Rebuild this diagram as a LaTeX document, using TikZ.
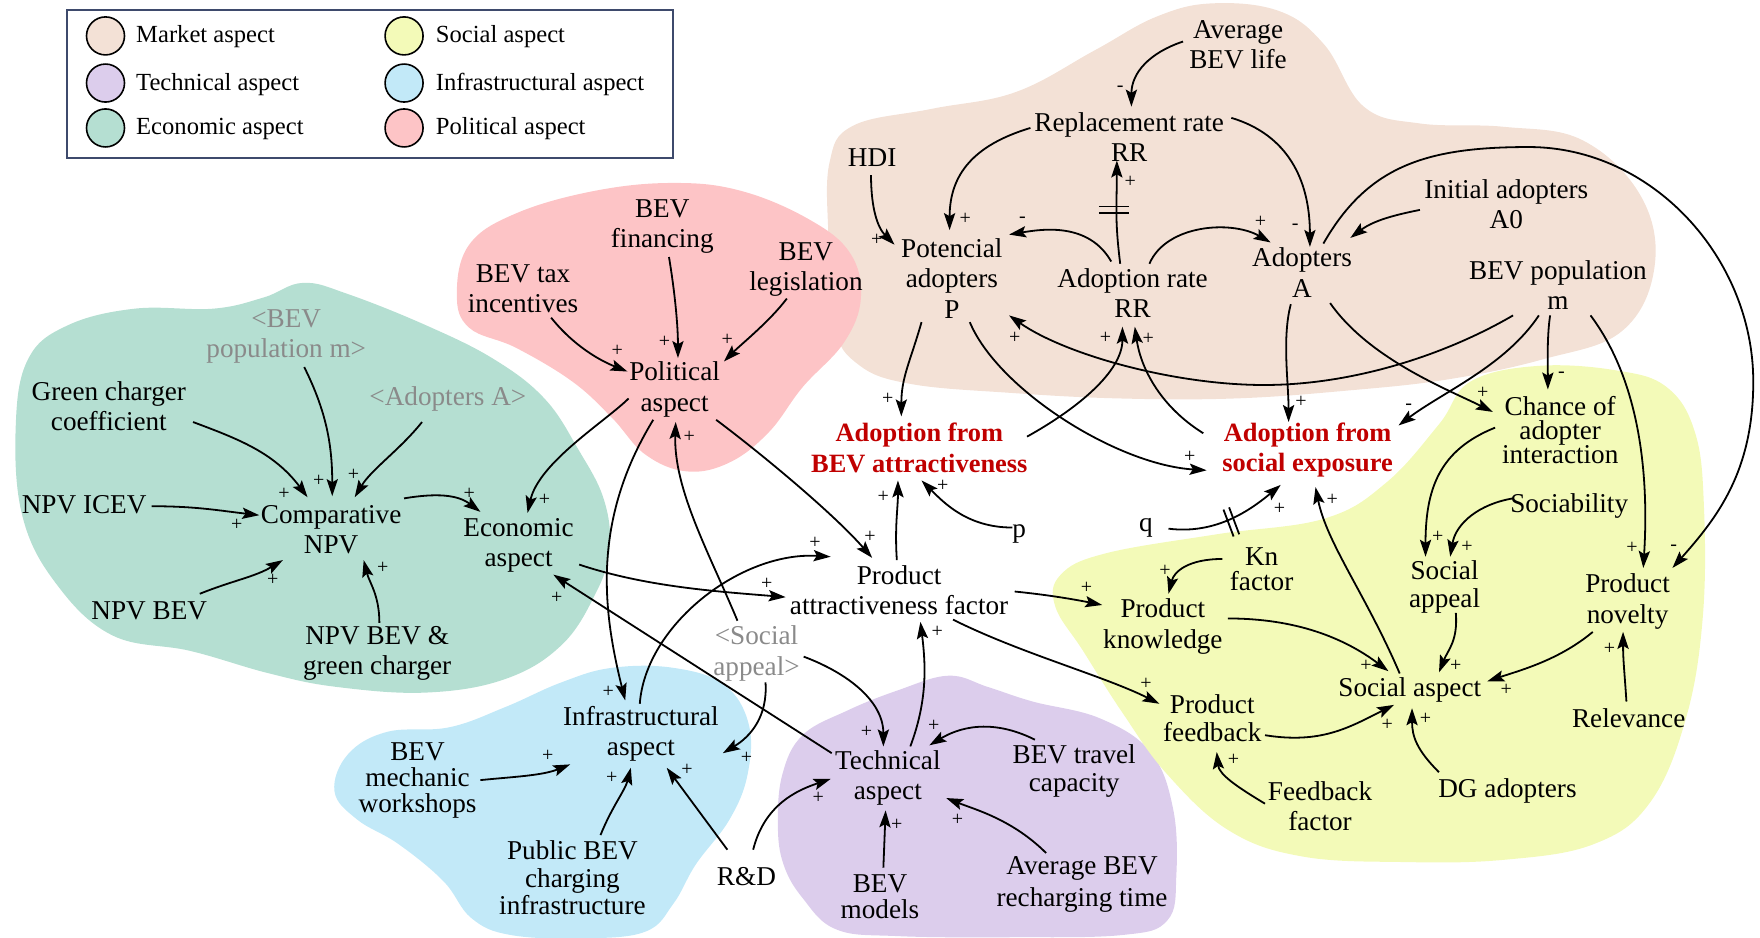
\documentclass[tikz,border=0pt]{standalone}
\usepackage{fontspec}
\setmainfont{Liberation Serif}
\usetikzlibrary{arrows.meta,calc}

\definecolor{cMkt}{HTML}{F3E1D6}
\definecolor{cPol}{HTML}{FDC4C6}
\definecolor{cEco}{HTML}{B5DFD2}
\definecolor{cInf}{HTML}{C2E9F8}
\definecolor{cTec}{HTML}{DCCDEC}
\definecolor{cSoc}{HTML}{F3FAB8}
\definecolor{cGrey}{HTML}{8A8A8A}
\definecolor{cRed}{HTML}{C00000}
\definecolor{cFrame}{HTML}{3E4A6C}

\newcommand\txtfont{\fontsize{13.6}{15.2}\selectfont}
\newcommand\txtfontat[1]{\fontsize{13.6}{#1}\selectfont}
\newcommand\keyfont{\fontsize{12.3}{14}\selectfont}
\newcommand\redfont{\fontsize{13.2}{15.4}\selectfont\bfseries}
\newcommand\signfont{\fontsize{10}{10}\selectfont}

\tikzset{
  var/.style={align=center, inner sep=0pt, font=\txtfont},
  shadow var/.style={var, text=cGrey},
  key var/.style={var, text=cRed, font=\redfont},
  key text/.style={anchor=west, inner sep=0pt, font=\keyfont},
  link/.style={line width=0.9pt, -{Stealth[length=8.5pt,width=5.6pt,inset=1.6pt]}},
  sign/.style={inner sep=0pt, font=\signfont},
  blob/.style={smooth cycle, tension=0.65},
  swatch/.style={draw, line width=0.8pt, circle, minimum size=19pt, inner sep=0pt},
  delay/.style={line width=0.9pt},
}

\begin{document}
\begin{tikzpicture}[x=0.5612pt, y=-0.5612pt]
\useasboundingbox (0,0) rectangle (1568,835);

% ---------- aspect regions ----------
\fill[cMkt] plot[blob] coordinates {(739,145) (760,112) (830,97) (905,82) (975,45) (1030,15) (1080,3) (1140,10) (1180,40) (1215,95) (1265,110) (1340,113) (1410,125) (1462,175) (1474,238) (1445,295) (1375,320) (1290,338) (1200,348) (1100,355) (998,355) (900,350) (811,342) (765,325) (743,290) (738,210)};
\fill[cPol] plot[blob] coordinates {(407,262) (418,218) (460,190) (530,170) (600,163) (660,170) (720,195) (757,225) (767,265) (752,305) (715,345) (685,385) (650,412) (612,420) (575,405) (545,372) (510,340) (460,310) (418,292)};
\fill[cEco] plot[blob] coordinates {(14,380) (25,320) (60,290) (120,275) (190,275) (235,265) (270,252) (310,262) (380,290) (440,320) (485,355) (515,400) (538,445) (543,490) (530,530) (500,575) (450,605) (380,617) (300,612) (240,600) (170,580) (100,566) (50,520) (20,460)};
\fill[cInf] plot[blob] coordinates {(298,705) (310,672) (345,652) (400,648) (450,630) (500,608) (545,595) (600,595) (645,610) (667,645) (666,690) (650,730) (620,770) (600,805) (575,830) (520,836) (455,833) (420,818) (395,785) (355,752) (318,730)};
\fill[cTec] plot[blob] coordinates {(693,735) (697,690) (715,655) (755,633) (800,615) (845,602) (880,612) (920,625) (980,640) (1025,670) (1045,720) (1048,780) (1040,820) (1000,833) (900,835) (800,834) (745,828) (715,800) (698,770)};
\fill[cSoc] plot[blob] coordinates {(1282,378) (1310,340) (1370,326) (1440,330) (1485,345) (1510,385) (1518,450) (1517,550) (1502,640) (1470,715) (1420,752) (1340,766) (1250,768) (1160,763) (1095,740) (1040,690) (1000,635) (965,580) (940,540) (945,512) (985,493) (1084,476) (1180,462) (1235,430)};

% ---------- legend ----------
\draw[cFrame, line width=1pt] (60,9) rectangle (600,141);
\node[swatch, fill=cMkt] (kMkt) at (94,32) {};
\node[swatch, fill=cTec] (kTec) at (94,74) {};
\node[swatch, fill=cEco] (kEco) at (94,114) {};
\node[swatch, fill=cSoc] (kSoc) at (360,32) {};
\node[swatch, fill=cInf] (kInf) at (360,74) {};
\node[swatch, fill=cPol] (kPol) at (360,114) {};
\node[key text] (tMkt) at (121,33) {Market aspect};
\node[key text] (tTec) at (121,75) {Technical aspect};
\node[key text] (tEco) at (121,115) {Economic aspect};
\node[key text] (tSoc) at (388,33) {Social aspect};
\node[key text] (tInf) at (388,75) {Infrastructural aspect};
\node[key text] (tPol) at (388,115) {Political aspect};

% ---------- economic aspect ----------
\node[shadow var] (gpop) at (255,300) {<BEV\\population m>};
\node[var] (gcc) at (97,362) {Green charger\\coefficient};
\node[shadow var] (gadA) at (399,355) {<Adopters A>};
\node[var] (icev) at (75,450) {NPV ICEV};
\node[var] (cmp) at (295,472) {Comparative\\NPV};
\node[var] (eco) at (462,486) {Economic\\aspect};
\node[var] (nbev) at (133,544) {NPV BEV};
\node[var] (ngc) at (336,582) {NPV BEV \&\\green charger};

% ---------- political aspect ----------
\node[var] (fin) at (590,202) {BEV\\financing};
\node[var] (tax) at (466,257) {BEV tax\\incentives};
\node[var] (leg) at (718,240) {BEV\\legislation};
\node[var] (pol) at (601,347) {Political\\aspect};

% ---------- market aspect ----------
\node[var] (avl) at (1103,40) {Average\\BEV life};
\node[var] (rep) at (1006,122) {Replacement rate\\RR};
\node[var] (hdi) at (777,140) {HDI};
\node[var] (pot) at (848,248) {Potencial\\adopters\\P};
\node[var] (adr) at (1009,261) {Adoption rate\\RR};
\node[var] (ado) at (1160,243) {Adopters\\A};
\node[var] (ini) at (1342,182) {Initial adopters\\A0};
\node[var] (pop) at (1388,254) {BEV population\\m};

% ---------- adoption flows ----------
\node[key var] (aba) at (819,399) {Adoption from\\BEV attractiveness};
\node[key var] (ase) at (1165,401) {Adoption from\\social exposure};
\node[var] (p) at (908,476) {p};
\node[var] (q) at (1021,470) {q};
\node[var] (paf) at (801,526) {Product\\attractiveness factor};
\node[shadow var] (gsa) at (674,582) {<Social\\appeal>};

% ---------- infrastructural aspect ----------
\node[var] (inf) at (571,654) {Infrastructural\\aspect};
\node[var, font=\txtfontat{13}] (mech) at (372,695) {BEV\\mechanic\\workshops};
\node[var, font=\txtfontat{13.7}] (pub) at (510,782) {Public BEV\\charging\\infrastructure};
\node[var] (rd) at (665,781) {R\&D};

% ---------- technical aspect ----------
\node[var] (tec) at (791,693) {Technical\\aspect};
\node[var, font=\txtfontat{14}] (trav) at (957,687) {BEV travel\\capacity};
\node[var, font=\txtfontat{13}] (mod) at (784,799) {BEV\\models};
\node[var, font=\txtfontat{16}] (rech) at (964,788) {Average BEV\\recharging time};

% ---------- social aspect ----------
\node[var, font=\txtfontat{12}] (cha) at (1390,383) {Chance of\\adopter\\interaction};
\node[var] (soc) at (1398,451) {Sociability};
\node[var, font=\txtfontat{12.5}] (kn) at (1124,507) {Kn\\factor};
\node[var] (pk) at (1036,558) {Product\\knowledge};
\node[var, font=\txtfontat{14}] (sap) at (1287,523) {Social\\appeal};
\node[var] (nov) at (1450,536) {Product\\novelty};
\node[var] (sas) at (1256,615) {Social aspect};
\node[var, font=\txtfontat{14}] (pfb) at (1080,640) {Product\\feedback};
\node[var] (rel) at (1451,640) {Relevance};
\node[var] (ffa) at (1176,718) {Feedback\\factor};
\node[var] (dg) at (1343,705) {DG adopters};

% ---------- causal links ----------
\draw[link] ($(gpop)+(16,27)$) .. controls +(20,40) and +(0,-45) .. ($(cmp)+(1,-30)$);
\draw[link] ($(gcc)+(75,14)$) .. controls +(40,15) and +(-30,-40) .. ($(cmp)+(-21,-29)$);
\draw[link] ($(gadA)+(-23,21)$) .. controls +(-20,25) and +(15,-25) .. ($(cmp)+(21,-29)$);
\draw[link] ($(icev)+(60,1)$) .. controls +(40,0) and +(-35,-4) .. ($(cmp)+(-64,-13)$);
\draw[link] ($(nbev)+(45,-15)$) .. controls +(30,-12) and +(-25,15) .. ($(cmp)+(-43,27)$);
\draw[link] ($(ngc)+(2,-27)$) .. controls +(0,-25) and +(5,20) .. ($(cmp)+(29,27)$);
\draw[link] ($(cmp)+(65,-28)$) .. controls +(30,-5) and +(-20,-15) .. ($(eco)+(-34,-30)$);
\draw[link] ($(pol)+(-41,8)$) .. controls +(-20,20) and +(10,-45) .. ($(eco)+(8,-29)$);
\draw[link] ($(eco)+(54,17)$) .. controls +(60,20) and +(-60,-5) .. ($(paf)+(-101,6)$);
\draw[link] ($(tec)+(-50,-22)$) -- ($(eco)+(31,26)$);

\draw[link] ($(fin)+(6,27)$) .. controls +(5,30) and +(0,-30) .. ($(pol)+(3,-28)$);
\draw[link] ($(tax)+(25,26)$) .. controls +(20,25) and +(-25,-10) .. ($(pol)+(-42,-16)$);
\draw[link] ($(leg)+(-17,26)$) .. controls +(-15,20) and +(15,-15) .. ($(pol)+(44,-25)$);
\draw[link] ($(pol)+(-19,27)$) .. controls +(-55,90) and +(-20,-80) .. ($(inf)+(-14,-30)$);
\draw[link] ($(gsa)+(-17,-29)$) .. controls +(-25,-60) and +(-2,60) .. ($(pol)+(1,29)$);
\draw[link] ($(pol)+(37,27)$) .. controls +(40,30) and +(-35,-40) .. ($(paf)+(-24,-29)$);
\draw[link] ($(inf)+(-1,-27)$) .. controls +(5,-70) and +(-80,-5) .. ($(paf)+(-61,-30)$);

\draw[link] ($(avl)+(-49,-3)$) .. controls +(-30,10) and +(0,-30) .. ($(rep)+(2,-27)$);
\draw[link] ($(rep)+(-88,-8)$) .. controls +(-50,15) and +(0,-50) .. ($(pot)+(-2,-43)$);
\draw[link] ($(rep)+(91,-17)$) .. controls +(50,15) and +(0,-60) .. ($(ado)+(7,-23)$);
\draw[link] ($(hdi)+(-1,16)$) .. controls +(0,30) and +(-15,-15) .. ($(pot)+(-51,-30)$);
\draw[link] ($(adr)+(-19,-28)$) .. controls +(-20,-35) and +(30,-5) .. ($(pot)+(51,-39)$);
\draw[link] ($(adr)+(-11,-26)$) .. controls +(-5,-40) and +(0,40) .. ($(rep)+(-11,21)$);
\draw[link] ($(adr)+(15,-26)$) .. controls +(15,-35) and +(-35,-20) .. ($(ado)+(-28,-27)$);
\draw[link] ($(ini)+(-77,5)$) .. controls +(-25,5) and +(20,-15) .. ($(ado)+(43,-31)$);
\draw[link] ($(ado)+(19,-26)$) .. controls +(40,-70) and +(-90,0) .. (1362,131)
  .. controls +(110,0) and +(0,-110) .. (1562,340)
  .. controls +(0,80) and +(40,-45) .. ($(nov)+(40,-30)$);
\draw[link] ($(pop)+(29,27)$) .. controls +(45,60) and +(5,-80) .. ($(nov)+(14,-30)$);
\draw[link] ($(pop)+(-7,27)$) .. controls +(-3,20) and +(0,-20) .. ($(cha)+(-11,-36)$);
\draw[link] ($(pop)+(-40,27)$) .. controls +(-60,35) and +(80,0) .. (1126,343)
  .. controls +(-80,0) and +(50,35) .. ($(pot)+(51,33)$);
\draw[link] ($(pop)+(-17,27)$) .. controls +(-30,45) and +(40,-30) .. ($(ase)+(81,-22)$);
\draw[link] ($(ado)+(-10,28)$) .. controls +(-8,30) and +(0,-35) .. ($(ase)+(-17,-25)$);
\draw[link] ($(ado)+(25,27)$) .. controls +(35,50) and +(-40,-20) .. ($(cha)+(-60,-16)$);
\draw[link] ($(pot)+(-27,39)$) .. controls +(-10,35) and +(0,-35) .. ($(aba)+(-16,-28)$);
\draw[link] ($(pot)+(16,39)$) .. controls +(25,60) and +(-80,-5) .. ($(ase)+(-90,18)$);
\draw[link] ($(aba)+(96,-10)$) .. controls +(45,-25) and +(0,40) .. ($(adr)+(-9,30)$);
\draw[link] ($(ase)+(-93,-15)$) .. controls +(-40,-25) and +(5,35) .. ($(adr)+(2,30)$);
\draw[link] ($(q)+(20,1)$) .. controls +(40,5) and +(-30,25) .. ($(ase)+(-24,31)$);
\draw[link] ($(sas)+(-9,-15)$) .. controls +(-30,-70) and +(10,50) .. ($(ase)+(7,33)$);
\draw[link] ($(paf)+(-2,-27)$) .. controls +(-2,-30) and +(0,25) .. ($(aba)+(-19,29)$);
\draw[link] ($(p)+(-6,-6)$) .. controls +(-40,0) and +(20,20) .. ($(aba)+(2,29)$);

\draw[link] ($(cha)+(-58,-2)$) .. controls +(-50,20) and +(0,-60) .. ($(sap)+(-17,-27)$);
\draw[link] ($(soc)+(-50,-7)$) .. controls +(-30,5) and +(5,-30) .. ($(sap)+(5,-27)$);
\draw[link] ($(kn)+(-35,-9)$) .. controls +(-30,0) and +(5,-20) .. ($(pk)+(5,-29)$);
\draw[link] ($(paf)+(103,1)$) .. controls +(30,3) and +(-25,-5) .. ($(pk)+(-54,-19)$);
\draw[link] ($(paf)+(48,26)$) .. controls +(60,30) and +(-50,-25) .. ($(pfb)+(-47,-13)$);
\draw[link] ($(pk)+(58,-7)$) .. controls +(60,0) and +(-40,-30) .. ($(sas)+(-19,-17)$);
\draw[link] ($(sap)+(10,23)$) .. controls +(2,25) and +(8,-20) .. ($(sas)+(26,-16)$);
\draw[link] ($(nov)+(-31,27)$) .. controls +(-30,25) and +(30,-10) .. ($(sas)+(69,-8)$);
\draw[link] ($(rel)+(-2,-15)$) .. controls +(-2,-30) and +(0,25) .. ($(nov)+(-4,27)$);
\draw[link] ($(pfb)+(47,15)$) .. controls +(50,8) and +(-40,20) .. ($(sas)+(-14,13)$);
\draw[link] ($(ffa)+(-49,-2)$) .. controls +(-25,-15) and +(2,20) .. ($(pfb)+(4,30)$);
\draw[link] ($(dg)+(-61,-17)$) .. controls +(-20,-20) and +(0,25) .. ($(sas)+(2,16)$);

\draw[link] ($(gsa)+(42,3)$) .. controls +(40,15) and +(0,-40) .. ($(tec)+(-4,-28)$);
\draw[link] ($(tec)+(20,-28)$) .. controls +(15,-40) and +(5,40) .. ($(paf)+(19,28)$);
\draw[link] ($(trav)+(-35,-28)$) .. controls +(-40,-20) and +(25,-15) .. ($(tec)+(37,-29)$);
\draw[link] ($(rech)+(-32,-28)$) .. controls +(-30,-30) and +(25,10) .. ($(tec)+(52,18)$);
\draw[link] ($(mod)+(3,-26)$) -- ($(tec)+(-2,29)$);
\draw[link] ($(rd)+(6,-24)$) .. controls +(10,-40) and +(-30,10) .. ($(tec)+(-51,1)$);

\draw[link] ($(mech)+(56,0)$) .. controls +(30,-3) and +(-25,10) .. ($(inf)+(-63,27)$);
\draw[link] ($(pub)+(25,-38)$) .. controls +(10,-25) and +(-5,20) .. ($(inf)+(-9,30)$);
\draw[link] ($(rd)+(-17,-24)$) -- ($(inf)+(23,30)$);
\draw[link] ($(gsa)+(8,26)$) .. controls +(2,30) and +(25,-15) .. ($(inf)+(73,17)$);

% delay marks
\draw[delay] (979,184) -- (1006,184) (979,190) -- (1006,190);
\draw[delay] (1090,454) -- (1099,478) (1095,452) -- (1104,476);

% ---------- link polarities ----------
\node[sign] (sg1) at (284,428) {+};
\node[sign] (sg2) at (253,440) {+};
\node[sign] (sg3) at (315,423) {+};
\node[sign] (sg4) at (211,468) {+};
\node[sign] (sg5) at (243,517) {+};
\node[sign] (sg6) at (341,506) {+};
\node[sign] (sg7) at (418,440) {+};
\node[sign] (sg8) at (485,445) {+};
\node[sign] (sg9) at (683,520) {+};
\node[sign] (sg10) at (496,533) {+};
\node[sign] (sg11) at (592,305) {+};
\node[sign] (sg12) at (550,313) {+};
\node[sign] (sg13) at (648,303) {+};
\node[sign] (sg14) at (542,616) {+};
\node[sign] (sg15) at (614,389) {+};
\node[sign] (sg16) at (775,478) {+};
\node[sign] (sg17) at (726,484) {+};
\node[sign] (sg18) at (998,79) {-};
\node[sign] (sg19) at (860,195) {+};
\node[sign] (sg20) at (1154,202) {-};
\node[sign] (sg21) at (781,214) {+};
\node[sign] (sg22) at (911,196) {-};
\node[sign] (sg23) at (1007,162) {+};
\node[sign] (sg24) at (1123,198) {+};
\node[sign] (sg26) at (1491,488) {-};
\node[sign] (sg27) at (1454,488) {+};
\node[sign] (sg28) at (1391,334) {-};
\node[sign] (sg29) at (904,301) {+};
\node[sign] (sg30) at (1255,362) {-};
\node[sign] (sg31) at (1159,358) {+};
\node[sign] (sg32) at (1321,350) {+};
\node[sign] (sg33) at (791,355) {+};
\node[sign] (sg34) at (1060,407) {+};
\node[sign] (sg35) at (985,301) {+};
\node[sign] (sg36) at (1023,302) {+};
\node[sign] (sg37) at (1140,453) {+};
\node[sign] (sg38) at (1187,445) {+};
\node[sign] (sg39) at (787,443) {+};
\node[sign] (sg40) at (840,433) {+};
\node[sign] (sg41) at (1281,478) {+};
\node[sign] (sg42) at (1307,487) {+};
\node[sign] (sg43) at (1038,509) {+};
\node[sign] (sg44) at (968,524) {+};
\node[sign] (sg45) at (1021,609) {+};
\node[sign] (sg46) at (1217,593) {+};
\node[sign] (sg47) at (1297,593) {+};
\node[sign] (sg48) at (1342,615) {+};
\node[sign] (sg49) at (1434,578) {+};
\node[sign] (sg50) at (1236,646) {+};
\node[sign] (sg51) at (1099,677) {+};
\node[sign] (sg52) at (1270,640) {+};
\node[sign] (sg53) at (772,652) {+};
\node[sign] (sg54) at (835,563) {+};
\node[sign] (sg55) at (832,647) {+};
\node[sign] (sg56) at (853,730) {+};
\node[sign] (sg57) at (799,735) {+};
\node[sign] (sg58) at (729,711) {+};
\node[sign] (sg59) at (488,673) {+};
\node[sign] (sg60) at (545,693) {+};
\node[sign] (sg61) at (612,686) {+};
\node[sign] (sg62) at (665,675) {+};
\end{tikzpicture}
\end{document}
